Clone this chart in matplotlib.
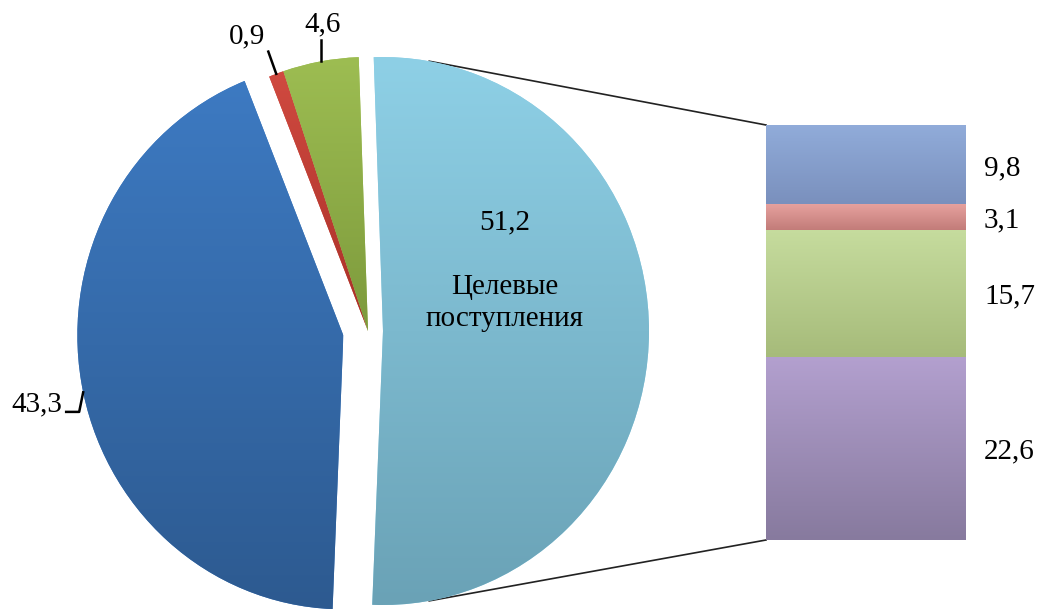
import matplotlib.pyplot as plt
import numpy as np
from matplotlib.colors import LinearSegmentedColormap

# data
pie_values = [51.2, 43.3, 0.9, 4.6]
pie_labels = ['51,2', '43,3', '0,9', '4,6']
pie_top = ['#8ed0e6', '#3d7ac2', '#d04a40', '#9dbd52']
pie_bottom = ['#6aa2b6', '#2d5a90', '#a83028', '#7d9a3c']
pie_explode = [15, 25, 0, 0]   # offsets in pixels
center_text = 'Целевые\nпоступления'

bar_values = [9.8, 3.1, 15.7, 22.6]          # top -> bottom
bar_labels = ['9,8', '3,1', '15,7', '22,6']
bar_top = ['#91acda', '#e6a19e', '#c6dc9e', '#b3a0cf']
bar_bottom = ['#7a90bd', '#c27c79', '#a6bb7a', '#877a9e']

W, H = 1039, 609
SY = 1.03   # pie is drawn slightly stretched vertically, like the original
fig = plt.figure(figsize=(W / 100, H / 100), dpi=100)
ax = fig.add_axes([0, 0, 1, 1])
plt.rcParams['font.family'] = ['Liberation Serif', 'DejaVu Serif']
FS = 21


def py(y_img):
    # image row -> data y of the main axes
    return (H - y_img) / SY


def shade(axis, patch, c_top, c_bot, z):
    cmap = LinearSegmentedColormap.from_list('g', [c_top, c_bot])
    bb = patch.get_extents().transformed(axis.transData.inverted())
    im = axis.imshow(np.linspace(0, 1, 256).reshape(-1, 1), cmap=cmap,
                     extent=(bb.x0, bb.x1, bb.y0, bb.y1), origin='upper',
                     aspect='auto', zorder=z, interpolation='bicubic')
    im.set_clip_path(patch)


R = 266
cx, cy = 368, py(331)
wedges, _ = ax.pie(pie_values, colors=pie_top, startangle=92, counterclock=False,
                   explode=pie_explode, center=(cx, cy), radius=R, frame=True,
                   wedgeprops=dict(linewidth=0, zorder=2))
for w, ct, cb in zip(wedges, pie_top, pie_bottom):
    shade(ax, w, ct, cb, 3)
ax.set_xlim(0, W)
ax.set_ylim(0, H / SY)
ax.set_aspect('auto')
ax.axis('off')


def arc_pt(w, ang, r=None):
    r = w.r if r is None else r
    a = np.deg2rad(ang)
    return w.center[0] + r * np.cos(a), w.center[1] + r * np.sin(a)


def mid(w):
    return (w.theta1 + w.theta2) / 2


# center labels on big slice
big = wedges[0]
ax.text(505, py(222), pie_labels[0], ha='center', va='center', fontsize=FS)
ax.text(505, py(303), center_text, ha='center', va='center', fontsize=FS,
        linespacing=1.35)

# 4,6 leader
x0, y0 = arc_pt(wedges[3], mid(wedges[3]))
ax.plot([x0, x0], [y0, y0 + 21], color='black', lw=1.8, zorder=5)
ax.text(x0 + 2, y0 + 23, pie_labels[3], ha='center', va='bottom', fontsize=FS)

# 0,9 leader
a = mid(wedges[2])
x0, y0 = arc_pt(wedges[2], a)
x1, y1 = arc_pt(wedges[2], a, R + 23)
ax.plot([x0, x1], [y0, y1], color='black', lw=1.8, zorder=5)
ax.text(x1 - 3, y1 + 2, pie_labels[2], ha='right', va='bottom', fontsize=FS)

# 43,3 leader
x0, y0 = arc_pt(wedges[1], 192)
ax.plot([x0, x0 - 4, x0 - 17], [y0, y0 - 19, y0 - 19], color='black', lw=1.8,
        zorder=5)
ax.text(x0 - 21, y0 - 12, pie_labels[1], ha='right', va='center', fontsize=FS)

# stacked bar
bl, bt, bw, bh = 766, 125, 200, 415   # pixels: left, top, width, height
axb = fig.add_axes([bl / W, (H - bt - bh) / H, bw / W, bh / H])
total = sum(bar_values)
bottoms = [total - sum(bar_values[:i + 1]) for i in range(len(bar_values))]
rects = axb.bar([0] * len(bar_values), bar_values, bottom=bottoms, width=1,
                color=bar_top, edgecolor='#55586a', linewidth=0.8, zorder=2)
axb.set_xlim(-0.5, 0.5)
axb.set_ylim(0, total)
axb.axis('off')
for r, ct, cb in zip(rects, bar_top, bar_bottom):
    shade(axb, r, ct, cb, 3)
for b, v, lab in zip(bottoms, bar_values, bar_labels):
    axb.text(0.59, b + v / 2 - 0.4, lab, ha='left', va='center', fontsize=FS,
             clip_on=False)

# series lines
xa, ya = arc_pt(big, 80)
ax.plot([xa, bl], [ya, py(bt)], color='#222222', lw=1.2, zorder=1)
xa, ya = arc_pt(big, -80)
ax.plot([xa, bl], [ya, py(bt + bh)], color='#222222', lw=1.2, zorder=1)

fig.savefig('out.png', dpi=100)
